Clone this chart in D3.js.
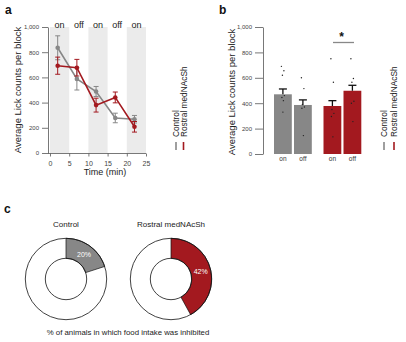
<!DOCTYPE html>
<html><head><meta charset="utf-8">
<script src="https://cdn.jsdelivr.net/npm/d3@7"></script>
<style>
body{margin:0;background:#fff;}
svg{display:block;font-family:"Liberation Sans",Arial,sans-serif;}
.axis path,.axis line{stroke:#555;stroke-width:0.8;}
.axis text{fill:#444;}
</style></head>
<body><svg id="c" width="406" height="342"></svg>
<script>
// ---- data ----
const blockLabels = ["on","off","on","off","on"];
const blockStarts = [0,5,10,15,20];
const timePoints = [2,7,12,17,22];
const controlMean = [835,588,488,278,268];
const controlErr  = [95,88,40,38,30];
const rostralMean = [693,677,380,441,208];
const rostralErr  = [68,66,55,43,42];
const yTicks = [0,200,400,600,800,1000];
const xTicks = [0,5,10,15,20,25];
const seriesNames = ["Control","Rostral medNAcSh"];
const barGroups = ["Control","Control","Rostral medNAcSh","Rostral medNAcSh"];
const barLabels = ["on","off","on","off"];
const barMeans = [470,386,378,498];
const barErr   = [42,40,42,43];
const barDots = [
  [690,655,620,460,445,420,330],
  [600,515,390,370,360,145],
  [750,565,350,320,295,135],
  [750,595,565,415,400,255]
];
const piePercent = [20,42];
const pieTitles = ["Control","Rostral medNAcSh"];
const caption = "% of animals in which food intake was inhibited";

const GRAY = "#878787", RED = "#a3191f", SHADE = "#ebebeb";
const colors = [GRAY, RED];
const svg = d3.select("#c");

// panel letters
[["a",5,14],["b",219,14],["c",4,213]].forEach(([t,x,y])=>
  svg.append("text").attr("x",x).attr("y",y).attr("font-size",12).attr("font-weight","bold").attr("fill","#111").text(t));

// ---------- Panel a ----------
const xa = d3.scaleLinear().domain([0,25]).range([50,146]);
const ya = d3.scaleLinear().domain([0,1000]).range([153,27]);
const ga = svg.append("g");
blockStarts.forEach((s,i)=>{
  if(i%2===0) ga.append("rect").attr("x",xa(s)).attr("y",ya(1000)).attr("width",xa(s+5)-xa(s)).attr("height",ya(0)-ya(1000)).attr("fill",SHADE);
  ga.append("text").attr("x",xa(s+2.5)).attr("y",ya(1000)+1).attr("text-anchor","middle").attr("font-size",9).attr("fill","#222").text(blockLabels[i]);
});
const yAxA = ga.append("g").attr("class","axis").attr("transform","translate(48,0)")
  .call(d3.axisLeft(ya).tickValues(yTicks).tickSize(6).tickSizeOuter(0));
yAxA.selectAll("text").attr("font-size",6);
const xAxA = ga.append("g").attr("class","axis").attr("transform",`translate(0,${ya(0)+0.5})`)
  .call(d3.axisBottom(xa).tickValues(xTicks).tickSize(3).tickSizeOuter(0));
xAxA.selectAll("text").attr("font-size",7).attr("dy","0.9em");
xAxA.select(".domain").attr("d",`M48,0H${xa(25)}`);
ga.append("text").attr("x",105).attr("y",175).attr("text-anchor","middle").attr("font-size",9).attr("fill","#222").text("Time (min)");
ga.append("text").attr("transform","translate(21,90) rotate(-90)").attr("text-anchor","middle").attr("font-size",9.5).attr("fill","#222").text("Average Lick counts per block");

[[controlMean,controlErr],[rostralMean,rostralErr]].forEach(([m,e],si)=>{
  const c = colors[si];
  const g = ga.append("g");
  timePoints.forEach((t,i)=>{
    const x = xa(t);
    g.append("line").attr("x1",x).attr("x2",x).attr("y1",ya(m[i]-e[i])).attr("y2",ya(m[i]+e[i])).attr("stroke",c).attr("stroke-width",1);
    [m[i]-e[i],m[i]+e[i]].forEach(v=>g.append("line").attr("x1",x-2.5).attr("x2",x+2.5).attr("y1",ya(v)).attr("y2",ya(v)).attr("stroke",c).attr("stroke-width",1));
  });
  g.append("path").datum(m).attr("fill","none").attr("stroke",c).attr("stroke-width",1.6)
    .attr("d",d3.line().x((d,i)=>xa(timePoints[i])).y(d=>ya(d)));
  g.selectAll("circle").data(m).join("circle").attr("cx",(d,i)=>xa(timePoints[i])).attr("cy",d=>ya(d)).attr("r",2.3).attr("fill",c);
});

function legend(x0, y0, gap){
  seriesNames.forEach((n,i)=>{
    const x = x0 + i*gap;
    svg.append("text").attr("transform",`translate(${x+3},${y0}) rotate(-90)`).attr("font-size",8.3).attr("fill","#222").text(n);
    svg.append("line").attr("x1",x).attr("x2",x).attr("y1",y0+5).attr("y2",y0+13).attr("stroke",colors[i]).attr("stroke-width",1.6);
  });
}
legend(176,137,7.5);

// ---------- Panel b ----------
const yb = d3.scaleLinear().domain([0,1000]).range([154,27]);
const gb = svg.append("g");
const yAxB = gb.append("g").attr("class","axis").attr("transform","translate(263,0)")
  .call(d3.axisLeft(yb).tickValues(yTicks).tickSize(8).tickSizeOuter(0));
yAxB.selectAll("text").attr("font-size",6);
gb.append("text").attr("transform","translate(235,92) rotate(-90)").attr("text-anchor","middle").attr("font-size",9.5).attr("fill","#222").text("Average Lick counts per block");
const xb = d3.scaleOrdinal().domain(d3.range(4)).range([274,294,323.5,343.5]);
const bw = 17.8;
barMeans.forEach((v,i)=>{
  const x = xb(i);
  const c = colors[barGroups[i]==="Control"?0:1];
  gb.append("rect").attr("x",x).attr("y",yb(v)).attr("width",bw).attr("height",yb(0)-yb(v)).attr("fill",c);
  const cx = x + bw/2;
  gb.append("line").attr("x1",cx).attr("x2",cx).attr("y1",yb(v)).attr("y2",yb(v+barErr[i])).attr("stroke","#111").attr("stroke-width",1.3);
  gb.append("line").attr("x1",cx-4).attr("x2",cx+4).attr("y1",yb(v+barErr[i])).attr("y2",yb(v+barErr[i])).attr("stroke","#111").attr("stroke-width",1.3);
  const jit = [-1.5,1,-0.5,1.5,-1,0.5,0];
  barDots[i].forEach((d,j)=>gb.append("circle").attr("cx",cx+jit[j%jit.length]).attr("cy",yb(d)).attr("r",0.7).attr("fill","#222"));
  gb.append("text").attr("x",cx).attr("y",161).attr("text-anchor","middle").attr("font-size",6.5).attr("fill","#333").text(barLabels[i]);
});
gb.append("line").attr("x1",333).attr("x2",354).attr("y1",42.5).attr("y2",42.5).attr("stroke","#888").attr("stroke-width",1.3);
gb.append("text").attr("x",341.5).attr("y",41).attr("text-anchor","middle").attr("font-size",12).attr("font-weight","bold").attr("fill","#111").text("*");
legend(384,137,10);

// ---------- Panel c ----------
const rO = 40.7, rI = 20.7;
const arc = d3.arc().innerRadius(rI).outerRadius(rO);
const pie = d3.pie().sort(null);
[66,171].forEach((cx,k)=>{
  const g = svg.append("g").attr("transform",`translate(${cx},279)`);
  const arcs = pie([piePercent[k], 100-piePercent[k]]);
  g.append("path").attr("d",arc(arcs[0])).attr("fill",colors[k]).attr("stroke","#111").attr("stroke-width",0.7);
  g.append("circle").attr("r",rO).attr("fill","none").attr("stroke","#111").attr("stroke-width",0.8);
  g.append("circle").attr("r",rI).attr("fill","none").attr("stroke","#111").attr("stroke-width",0.8);
  const [lx,ly] = arc.centroid(arcs[0]);
  g.append("text").attr("x",lx).attr("y",ly).attr("dy","0.35em").attr("text-anchor","middle").attr("font-size",7).attr("fill","#fff").text(piePercent[k]+"%");
  svg.append("text").attr("x",cx).attr("y",227).attr("text-anchor","middle").attr("font-size",8).attr("fill","#222").text(pieTitles[k]);
});
svg.append("text").attr("x",128).attr("y",335).attr("text-anchor","middle").attr("font-size",7.8).attr("fill","#222").text(caption);
</script></body></html>
